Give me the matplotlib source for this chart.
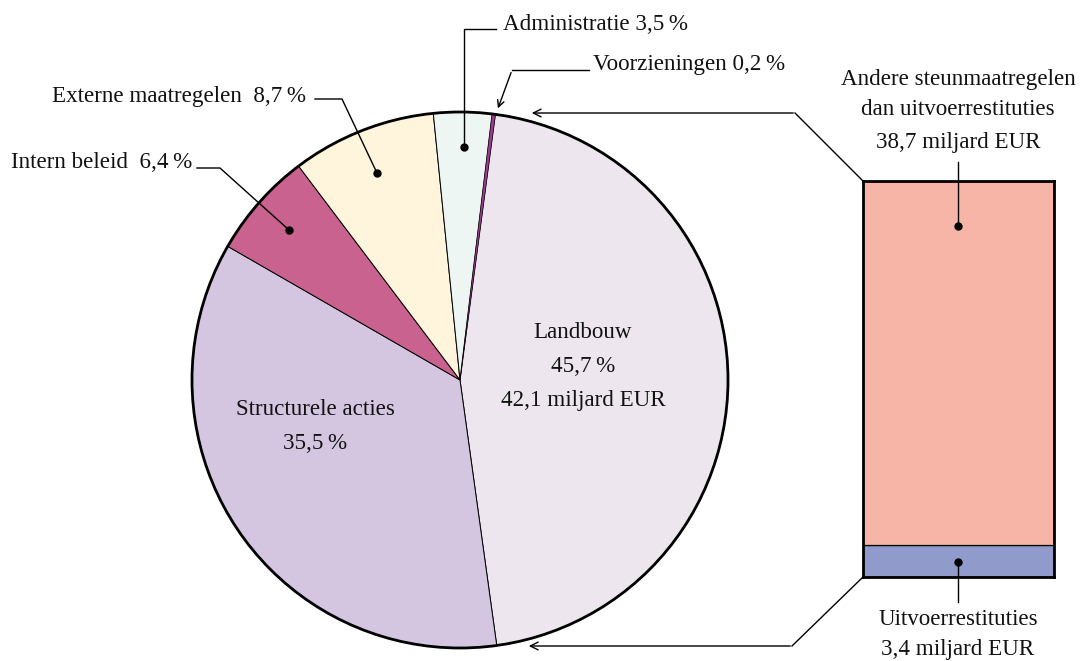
import matplotlib.pyplot as plt
from matplotlib.patches import Circle

# data
slice_names = ['Landbouw', 'Structurele acties', 'Intern beleid',
               'Externe maatregelen', 'Administratie', 'Voorzieningen']
slice_shares = [45.7, 35.5, 6.4, 8.7, 3.5, 0.2]
slice_colors = ['#EDE6EE', '#D4C6E0', '#C9628F', '#FFF5DC', '#EEF6F4', '#9B3A8E']

bar_names = ['Uitvoerrestituties', 'Andere steunmaatregelen dan uitvoerrestituties']
bar_values = [3.4, 38.7]
bar_colors = ['#919BCB', '#F7B5A8']

W, H = 1082, 661
plt.rcParams['font.family'] = ['Liberation Serif', 'DejaVu Serif']
FS = 16.6

fig = plt.figure(figsize=(W / 100, H / 100), dpi=100)
ax = fig.add_axes([0, 0, 1, 1])


def py(y):
    # pixel row -> data y
    return H - y


# --- pie ---
cx, cy, r = 460, 380, 268
wedges, _ = ax.pie(slice_shares, colors=slice_colors, center=(cx, py(cy)), radius=r,
                   startangle=82.4, counterclock=False,
                   wedgeprops=dict(edgecolor='black', linewidth=0.7))
# tiny slice: keep its fill visible over the neighbours' edges
wedges[-1].set_linewidth(0.3)
wedges[-1].set_zorder(3)
ax.add_patch(Circle((cx, py(cy)), r, fill=False, edgecolor='black', linewidth=2.0, zorder=5))
ax.set_xlim(0, W)
ax.set_ylim(0, H)
ax.set_aspect('auto')
ax.axis('off')

# --- stacked bar in its own axes (kept under the annotation layer) ---
bx0, bx1, by0, by1 = 863, 1054, 181, 577
axb = fig.add_axes([bx0 / W, (H - by1) / H, (bx1 - bx0) / W, (by1 - by0) / H])
axb.set_zorder(0)
ax.set_zorder(1)
bottom = 0
for v, c in zip(bar_values, bar_colors):
    axb.bar(0, v, bottom=bottom, width=1, color=c, edgecolor='black', linewidth=0.9)
    bottom += v
axb.set_xlim(-0.5, 0.5)
axb.set_ylim(0, sum(bar_values))
axb.set_xticks([])
axb.set_yticks([])
for s in axb.spines.values():
    s.set_linewidth(2.0)

# connector lines pie -> bar
lk = dict(color='black', lw=1.0)
ax.plot([795, bx0], [py(113), py(by0)], **lk)
ax.plot([792, bx0], [py(646), py(by1)], **lk)
ax.annotate('', xy=(529, py(113)), xytext=(796, py(113)),
            arrowprops=dict(arrowstyle='->', lw=1.0, mutation_scale=14))
ax.annotate('', xy=(526, py(646)), xytext=(793, py(646)),
            arrowprops=dict(arrowstyle='->', lw=1.0, mutation_scale=14))

# --- labels ---
def txt(x, y, s, ha='left'):
    ax.text(x, py(y), s, fontsize=FS, ha=ha, va='baseline', color='#111111')


def dot(x, y):
    ax.plot(x, py(y), 'o', color='black', ms=5, zorder=6)


# Administratie
txt(503, 30, f'{slice_names[4]} 3,5\u2009%')
ax.plot([464, 464, 496], [py(147), py(29), py(29)], **lk)
dot(464, 147)

# Voorzieningen
txt(593, 70, f'{slice_names[5]} 0,2\u2009%')
ax.plot([589, 512], [py(70), py(70)], **lk)
ax.annotate('', xy=(497, py(111)), xytext=(512, py(70)),
            arrowprops=dict(arrowstyle='->', lw=1.0, mutation_scale=12))

# Externe maatregelen
txt(52, 102, f'{slice_names[3]}  8,7\u2009%')
ax.plot([315, 342, 377], [py(99), py(99), py(173)], **lk)
dot(377, 173)

# Intern beleid
txt(11, 168, f'{slice_names[2]}  6,4\u2009%')
ax.plot([197, 220, 289], [py(168), py(168), py(230)], **lk)
dot(289, 230)

# Landbouw
txt(583, 338, slice_names[0], ha='center')
txt(583, 372, '45,7\u2009%', ha='center')
txt(583, 406, '42,1 miljard EUR', ha='center')

# Structurele acties
txt(315, 415, slice_names[1], ha='center')
txt(315, 449, '35,5\u2009%', ha='center')

# bar labels
txt(958, 85, 'Andere steunmaatregelen', ha='center')
txt(958, 115, 'dan uitvoerrestituties', ha='center')
txt(958, 148, '38,7 miljard EUR', ha='center')
ax.plot([958, 958], [py(162), py(226)], **lk)
dot(958, 226)

txt(958, 625, bar_names[0], ha='center')
txt(958, 655, '3,4 miljard EUR', ha='center')
ax.plot([958, 958], [py(562), py(602)], **lk)
dot(958, 562)

fig.savefig('out.png', dpi=100)
